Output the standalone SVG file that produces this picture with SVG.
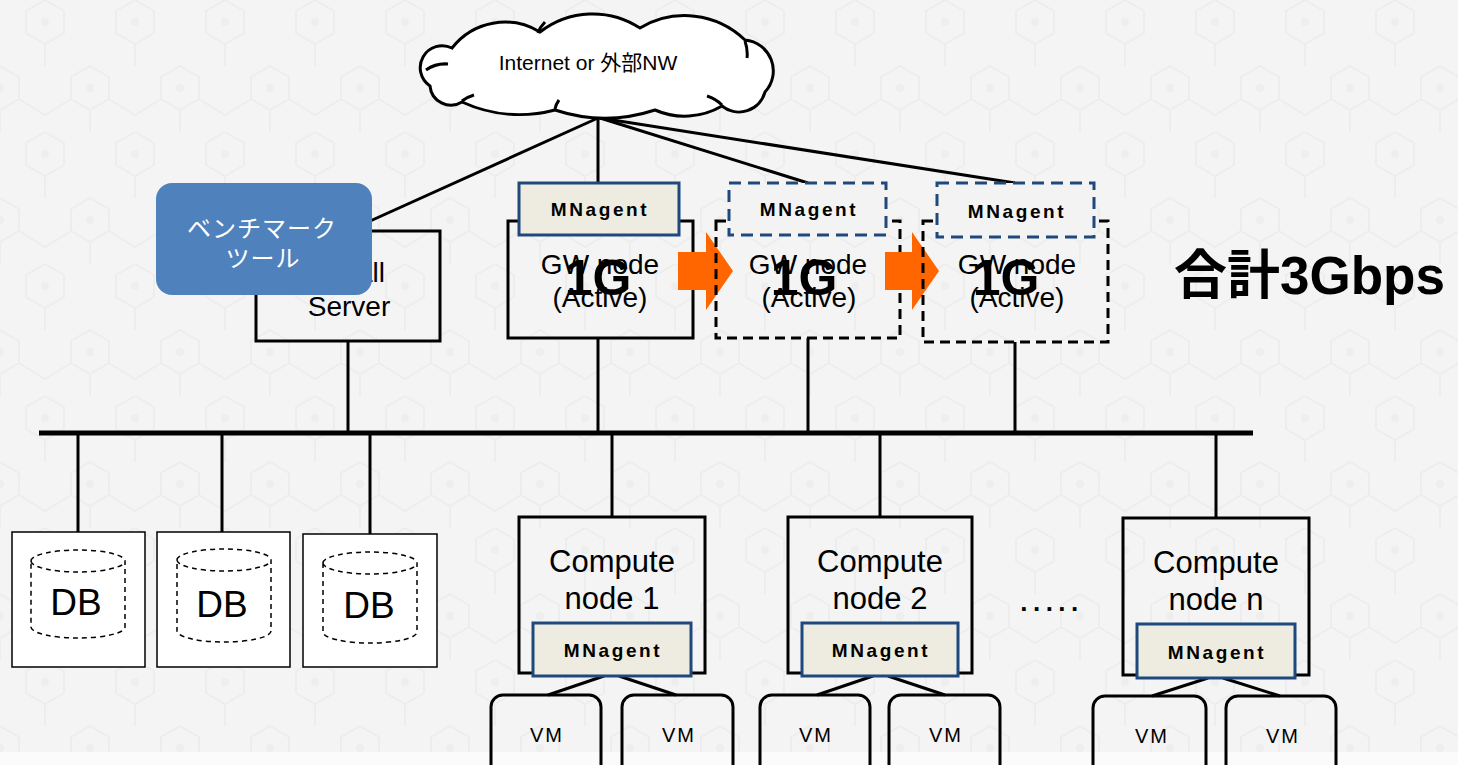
<svg xmlns="http://www.w3.org/2000/svg" width="1458" height="765" viewBox="0 0 1458 765">
<defs>
<pattern id="hex" x="0" y="0" width="90" height="132" patternUnits="userSpaceOnUse">
<g fill="none" stroke="#ededed" stroke-width="2">
<path d="M45,0 L64,11 L64,33 L45,44 L26,33 L26,11 Z"/>
<path d="M0,66 L19,77 L19,99 L0,110 L-19,99 L-19,77 Z"/>
<path d="M90,66 L109,77 L109,99 L90,110 L71,99 L71,77 Z"/>
<path d="M45,44 L45,66 M0,110 L0,132 M90,110 L90,132 M19,99 L45,115 L71,99"/>
</g>
<g fill="#eeeeee"><circle cx="45" cy="22" r="4"/><circle cx="0" cy="88" r="4"/><circle cx="90" cy="88" r="4"/></g>
</pattern>
<style>
.ln{stroke:#000;stroke-width:3;fill:none}
.bus{stroke:#000;stroke-width:5;fill:none}
.box{fill:none;stroke:#000;stroke-width:3}
.dbox{fill:none;stroke:#000;stroke-width:3;stroke-dasharray:10 6}
.dbbox{fill:#fff;stroke:#000;stroke-width:1.5}
.cyl{fill:#fff;stroke:#000;stroke-width:1.5;stroke-dasharray:5 4}
.mn{fill:#eeece1;stroke:#1f497d;stroke-width:3}
.mnd{fill:#f3f3f3;stroke:#1f497d;stroke-width:3;stroke-dasharray:12 7}
.vm{fill:none;stroke:#000;stroke-width:3}
.arr{fill:#ff6600}
text{font-family:"Liberation Sans","Noto Sans CJK JP",sans-serif;fill:#000}
.mnt{font-size:19px;font-weight:bold;letter-spacing:2.6px;text-anchor:middle}
.t28{font-size:28px;text-anchor:middle}
.t31{font-size:31px;text-anchor:middle}
.big{font-size:50px;font-weight:bold;text-anchor:middle}
.vmt{font-size:20px;letter-spacing:2px;text-anchor:middle}
.db{font-size:37px;text-anchor:middle}
</style>
</defs>
<rect x="0" y="0" width="1458" height="765" fill="#f4f4f4"/>
<rect x="0" y="0" width="1458" height="752" fill="url(#hex)"/>
<rect x="0" y="752" width="1458" height="13" fill="#fbfbfb"/>

<g id="connectors">
<line class="ln" x1="598" y1="118" x2="348" y2="231"/>
<line class="ln" x1="598" y1="118" x2="598" y2="183"/>
<line class="ln" x1="600" y1="118" x2="808" y2="183"/>
<line class="ln" x1="600" y1="118" x2="1015" y2="183"/>
<line class="bus" x1="39" y1="433" x2="1253" y2="433"/>
<line class="ln" x1="348" y1="342" x2="348" y2="433"/>
<line class="ln" x1="598" y1="338" x2="598" y2="433"/>
<line class="ln" x1="808" y1="338" x2="808" y2="433"/>
<line class="ln" x1="1015" y1="342" x2="1015" y2="433"/>
<line class="ln" x1="78" y1="433" x2="78" y2="532"/>
<line class="ln" x1="222" y1="433" x2="222" y2="532"/>
<line class="ln" x1="370" y1="433" x2="370" y2="534"/>
<line class="ln" x1="612" y1="433" x2="612" y2="517"/>
<line class="ln" x1="880" y1="433" x2="880" y2="517"/>
<line class="ln" x1="1216" y1="433" x2="1216" y2="518"/>
<line class="ln" x1="604" y1="676" x2="548" y2="695"/>
<line class="ln" x1="619" y1="676" x2="676" y2="695"/>
<line class="ln" x1="873" y1="676" x2="817" y2="695"/>
<line class="ln" x1="888" y1="676" x2="945" y2="695"/>
<line class="ln" x1="1208" y1="678" x2="1152" y2="696"/>
<line class="ln" x1="1223" y1="678" x2="1280" y2="696"/>
</g>

<g id="cloud">
<path d="M430,86 A22,22 0 0 1 452,48 A67,67 0 0 1 540,32 A86,86 0 0 1 640,28 A87,87 0 0 1 745,40 A31,31 0 0 1 765,92 A27,27 0 0 1 722,106 A74,74 0 0 1 655,110 A160,160 0 0 1 555,110 A139,139 0 0 1 462,102 A21,21 0 0 1 430,86 Z" fill="#fff" stroke="#000" stroke-width="3"/>
<path d="M426,70 Q436,63 448,64 M538,33 Q540,27 545,22 M745,41 Q748,50 747,58 M722,105 Q716,99 707,96 M555,109 Q556,104 559,100 M462,101 Q467,97 474,95" fill="none" stroke="#000" stroke-width="3"/>
<text x="588" y="70" style="font-size:21px;text-anchor:middle">Internet or 外部NW</text>
</g>

<g id="server">
<rect class="box" x="256" y="231" width="184" height="110"/>
<text class="t28" x="385" y="282" style="text-anchor:end">all</text>
<text class="t28" x="349" y="316">Server</text>
</g>

<g id="benchmark">
<rect x="156" y="183" width="216" height="112" rx="16" fill="#4f81bd"/>
<text x="262" y="237" style="font-size:24px;fill:#fff;text-anchor:middle;letter-spacing:1px">ベンチマーク</text>
<text x="263" y="267" style="font-size:24px;fill:#fff;text-anchor:middle;letter-spacing:1px">ツール</text>
</g>

<g id="gw1">
<rect class="box" x="508" y="221" width="185" height="117"/>
<rect class="mn" x="519" y="183" width="160" height="52"/>
<text class="mnt" x="600" y="216">MNagent</text>
<text class="t28" x="600" y="274">GW node</text>
<text class="t28" x="600" y="307">(Active)</text>
<text class="big" x="598" y="295">1G</text>
</g>

<g id="arrow1"><polygon class="arr" points="678,252 706,252 706,232 733,271 706,310 706,290 678,290"/></g>

<g id="gw2">
<rect class="dbox" x="716" y="221" width="184" height="117"/>
<rect class="mnd" x="729" y="183" width="157" height="52"/>
<text class="mnt" x="809" y="216">MNagent</text>
<text class="t28" x="808" y="274">GW node</text>
<text class="t28" x="809" y="307">(Active)</text>
<text class="big" x="804" y="295">1G</text>
</g>

<g id="arrow2"><polygon class="arr" points="885,252 912,252 912,232 939,271 912,310 912,290 885,290"/></g>

<g id="gw3">
<rect class="dbox" x="923" y="221" width="185" height="121"/>
<rect class="mnd" x="937" y="183" width="157" height="54"/>
<text class="mnt" x="1017" y="218">MNagent</text>
<text class="t28" x="1017" y="274">GW node</text>
<text class="t28" x="1017" y="307">(Active)</text>
<text class="big" x="1006" y="295">1G</text>
</g>

<g id="total">
<text x="1174" y="294" style="font-size:53px;font-weight:bold">合計3Gbps</text>
</g>

<g id="db1">
<rect class="dbbox" x="12" y="532" width="133" height="135"/>
<path class="cyl" d="M31,561 A47,11 0 0 1 125,561 L125,627 A47,11 0 0 1 31,627 Z M31,561 A47,11 0 0 0 125,561"/>
<text class="db" x="76" y="615">DB</text>
</g>
<g id="db2">
<rect class="dbbox" x="157" y="532" width="133" height="135"/>
<path class="cyl" d="M177,560 A47,11 0 0 1 271,560 L271,631 A47,11 0 0 1 177,631 Z M177,560 A47,11 0 0 0 271,560"/>
<text class="db" x="222" y="617">DB</text>
</g>
<g id="db3">
<rect class="dbbox" x="303" y="534" width="134" height="133"/>
<path class="cyl" d="M323,563 A47,11 0 0 1 417,563 L417,632 A47,11 0 0 1 323,632 Z M323,563 A47,11 0 0 0 417,563"/>
<text class="db" x="369" y="618">DB</text>
</g>

<g id="compute1">
<rect class="box" x="519" y="517" width="186" height="156"/>
<text class="t31" x="612" y="572">Compute</text>
<text class="t31" x="612" y="609">node 1</text>
<rect class="mn" x="533" y="623" width="158" height="53"/>
<text class="mnt" x="613" y="657">MNagent</text>
</g>
<g id="compute2">
<rect class="box" x="788" y="517" width="184" height="156"/>
<text class="t31" x="880" y="572">Compute</text>
<text class="t31" x="880" y="609">node 2</text>
<rect class="mn" x="802" y="623" width="156" height="53"/>
<text class="mnt" x="881" y="657">MNagent</text>
</g>
<g id="dots"><text x="1052" y="611" style="font-size:26px;font-weight:bold;text-anchor:middle;letter-spacing:5.5px">.....</text></g>
<g id="computen">
<rect class="box" x="1123" y="518" width="186" height="157"/>
<text class="t31" x="1216" y="573">Compute</text>
<text class="t31" x="1216" y="610">node n</text>
<rect class="mn" x="1137" y="624" width="158" height="54"/>
<text class="mnt" x="1217" y="659">MNagent</text>
</g>

<g id="vm1a"><rect class="vm" x="491" y="695" width="110" height="85" rx="12"/><text class="vmt" x="547" y="742">VM</text></g>
<g id="vm1b"><rect class="vm" x="622" y="695" width="111" height="85" rx="12"/><text class="vmt" x="679" y="742">VM</text></g>
<g id="vm2a"><rect class="vm" x="760" y="695" width="110" height="85" rx="12"/><text class="vmt" x="816" y="742">VM</text></g>
<g id="vm2b"><rect class="vm" x="889" y="695" width="111" height="85" rx="12"/><text class="vmt" x="946" y="742">VM</text></g>
<g id="vmna"><rect class="vm" x="1093" y="696" width="113" height="85" rx="12"/><text class="vmt" x="1152" y="743">VM</text></g>
<g id="vmnb"><rect class="vm" x="1226" y="696" width="110" height="85" rx="12"/><text class="vmt" x="1283" y="743">VM</text></g>
</svg>
